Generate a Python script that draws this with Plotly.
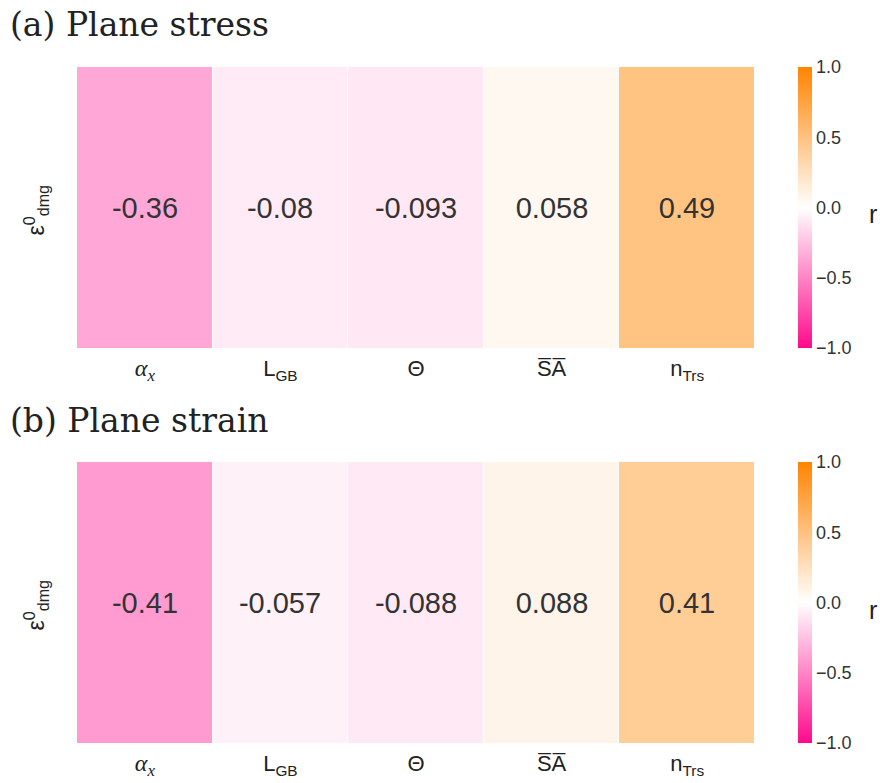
import plotly.graph_objects as go

# Correlation of the damage-onset strain with microstructural descriptors
features = ["alpha_x", "L_GB", "Theta", "SA", "n_Trs"]
feature_labels = [
    "<span style='font-family:Liberation Serif;font-size:24px'><i>α<sub>x</sub></i></span>",
    "L<sub>GB</sub>",
    "Θ",
    "S\u0305A\u0305",
    "n<sub>Trs</sub>",
]
row_label = ["eps"]
row_title = "ε<sup>0</sup><sub>dmg</sub>"
r_plane_stress = [-0.36, -0.08, -0.093, 0.058, 0.49]
r_plane_strain = [-0.41, -0.057, -0.088, 0.088, 0.41]
panel_titles = ["(a) Plane stress", "(b) Plane strain"]
cbar_ticks = [-1.0, -0.5, 0.0, 0.5, 1.0]

W, H = 880, 783
colorscale = [[0.0, "#ff0a8c"], [0.5, "#ffffff"], [1.0, "#ff8400"]]
sans = "Liberation Sans, Arial, sans-serif"
serif = "DejaVu Serif, serif"
ink = "#222222"

# pixel boxes (top, bottom) of each panel
panels = [(67, 348), (462, 743)]
x_left, x_right = 77, 755
cb_left, cb_thick = 798, 14

fig = go.Figure()
layout_axes = {}
annotations = []


def label(text, x, y, size, family=sans, angle=0, anchor="center"):
    return dict(text=text, x=x / W, y=y, xref="paper", yref="paper",
                xanchor=anchor, yanchor="middle", textangle=angle, showarrow=False,
                font=dict(family=family, size=size, color=ink))


for i, (vals, (top, bot)) in enumerate(zip([r_plane_stress, r_plane_strain], panels)):
    n = i + 1
    xa = "x" if n == 1 else f"x{n}"
    ya = "y" if n == 1 else f"y{n}"
    y0, y1 = 1 - bot / H, 1 - top / H
    fig.add_trace(go.Heatmap(
        z=[vals], x=features, y=row_label,
        xaxis=xa, yaxis=ya,
        zmin=-1, zmax=1, colorscale=colorscale,
        xgap=1,
        text=[[str(v) for v in vals]],
        texttemplate="%{text}",
        textfont=dict(family=sans, size=29, color="#333333"),
        hoverinfo="skip",
        colorbar=dict(
            x=cb_left / W, xanchor="left", thickness=cb_thick, thicknessmode="pixels",
            y=(y0 + y1) / 2, yanchor="middle", len=(bot - top) / H, lenmode="fraction",
            tickvals=cbar_ticks, tickformat=".1f", ticks="", outlinewidth=0,
            tickfont=dict(family=sans, size=18, color="#333333"), ypad=0, xpad=0,
        ),
    ))
    layout_axes[f"xaxis{'' if n == 1 else n}"] = dict(
        domain=[x_left / W, x_right / W], anchor=ya,
        tickmode="array", tickvals=features, ticktext=feature_labels,
        tickfont=dict(family=sans, size=22, color=ink),
        ticklabelstandoff=5,
        showgrid=False, zeroline=False, showline=False, ticks="",
    )
    layout_axes[f"yaxis{'' if n == 1 else n}"] = dict(
        domain=[y0, y1], anchor=xa,
        showticklabels=False, showgrid=False, zeroline=False, ticks="",
    )
    ymid = 1 - ((top + bot) / 2) / H
    annotations += [
        label(row_title, 35, ymid - 3 / H, 23, angle=-90),
        label("r", 873, ymid - 7 / H, 25),
        label(panel_titles[i], 8, 1 - (top - 42) / H, 33, family=serif, anchor="left"),
    ]

fig.update_layout(
    width=W, height=H,
    margin=dict(l=0, r=0, t=0, b=0),
    paper_bgcolor="white", plot_bgcolor="white",
    annotations=annotations,
    **layout_axes,
)

fig.write_html("out.html")
